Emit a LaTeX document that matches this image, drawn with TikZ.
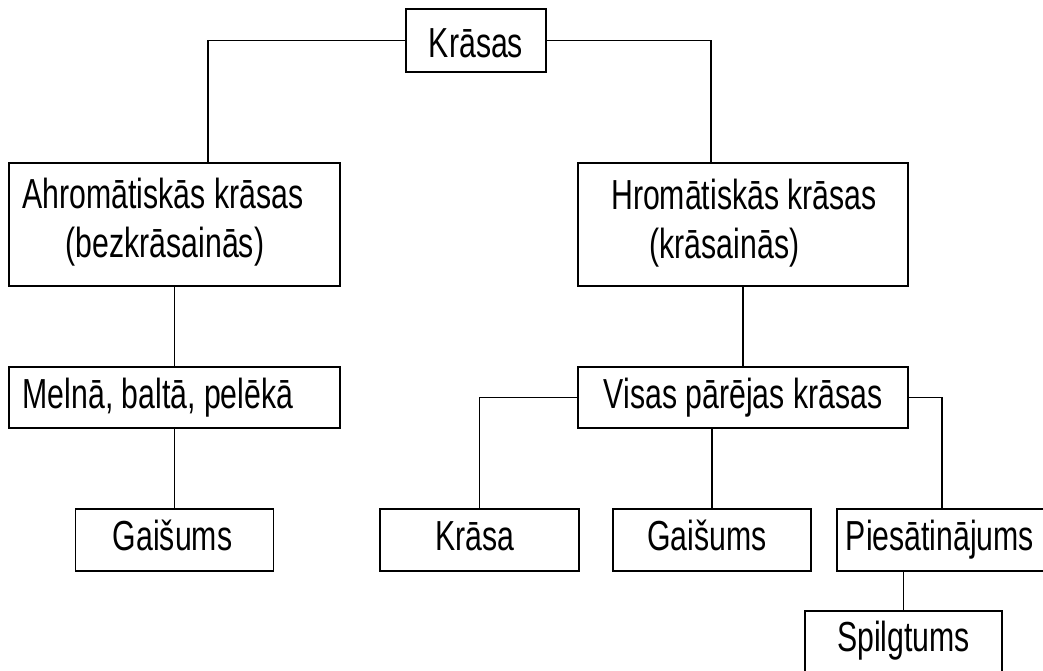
\documentclass[tikz,border=0pt]{standalone}
\usepackage{fontspec}
\setmainfont{Liberation Sans}[FakeStretch=0.72]
\begin{document}
\begin{tikzpicture}[x=1pt,y=-1pt,
  box/.style={draw=black, line width=1.8pt, inner sep=0pt, rectangle},
  txt/.style={inner sep=0pt, anchor=base, font=\fontsize{42}{49}\selectfont},
  conn/.style={draw=black, line width=1.8pt}]
\useasboundingbox (0,0) rectangle (1043,670);
\clip (0,0) rectangle (1043,670);
\fill[white] (0,0) rectangle (1043,670);
% boxes
\node[box, minimum width=140pt, minimum height=63pt] (kr) at (476,40.5) {};
\node[box, minimum width=331pt, minimum height=123pt] (ahr) at (174.5,224.5) {};
\node[box, minimum width=330pt, minimum height=123pt] (hro) at (743,224.5) {};
\node[box, minimum width=331pt, minimum height=61pt] (mel) at (174.5,397.5) {};
\node[box, minimum width=330pt, minimum height=61pt] (vis) at (743,397.5) {};
\node[box, minimum width=198pt, minimum height=62pt] (gaL) at (174.5,540) {};
\node[box, minimum width=199pt, minimum height=62pt] (kra) at (479.5,540) {};
\node[box, minimum width=198pt, minimum height=62pt] (gaM) at (712,540) {};
\node[box, minimum width=210pt, minimum height=62pt] (pie) at (942,540) {};
\node[box, minimum width=197pt, minimum height=62pt] (spi) at (903.5,642) {};
% texts
\node[txt] (krt) at (476,57) {Krāsas};
\node[txt] (ahr1) at (163,208) {Ahromātiskās krāsas};
\node[txt] (ahr2) at (165,257) {(bezkrāsainās)};
\node[txt] (hro1) at (744,209) {Hromātiskās krāsas};
\node[txt] (hro2) at (724.5,258) {(krāsainās)};
\node[txt] (melt) at (158,408) {Melnā, baltā, pelēkā};
\node[txt] (vist) at (743,408) {Visas pārējas krāsas};
\node[txt] (gaLt) at (172.5,550) {Gaišums};
\node[txt] (krat) at (474.5,550) {Krāsa};
\node[txt] (gaMt) at (707,550) {Gaišums};
\node[txt] (piet) at (940,550) {Piesātinājums};
\node[txt] (spit) at (903.5,651) {Spilgtums};
% connectors
\draw[conn] (kr.west) -| ([xshift=33.5pt]ahr.north);
\draw[conn] (kr.east) -| ([xshift=-32pt]hro.north);
\draw[conn] (ahr.south) -- (mel.north);
\draw[conn] (mel.south) -- (gaL.north);
\draw[conn] (hro.south) -- (vis.north);
\draw[conn] (vis.west) -| (kra.north);
\draw[conn] (gaM.north |- vis.south) -- (gaM.north);
\draw[conn] (vis.east) -| (pie.north);
\draw[conn] (spi.north |- pie.south) -- (spi.north);
\end{tikzpicture}
\end{document}
